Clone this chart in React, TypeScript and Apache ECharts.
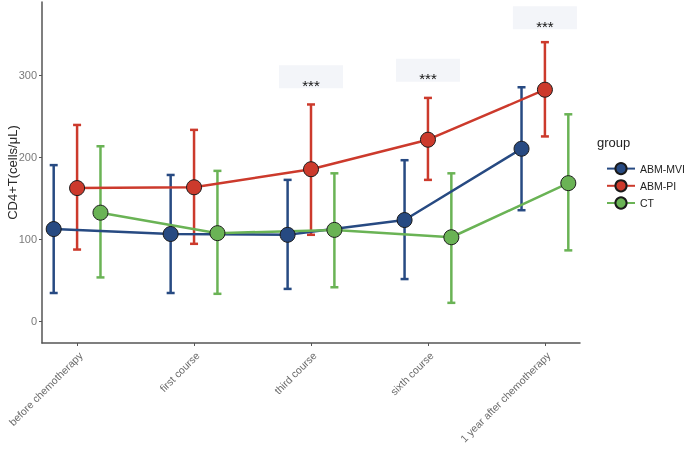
import React, { useEffect, useRef } from "react";
import * as echarts from "echarts";

const categories = [
  "before chemotherapy",
  "first course",
  "third course",
  "sixth course",
  "1 year after chemotherapy",
];
const groups = ["ABM-MVI", "ABM-PI", "CT"];
const colors = ["#274a82", "#cc3a2c", "#6ab355"];
const dodge = [-0.2, 0, 0.2];

// mean values
const mviMean = [112, 106, 105, 123, 210];
const piMean = [162, 163, 185, 221, 282];
const ctMean = [132, 107, 111, 102, 168];
// error bar lower / upper
const mviLow = [34, 34, 39, 51, 135];
const mviHigh = [190, 178, 172, 196, 285];
const piLow = [87, 94, 105, 172, 225];
const piHigh = [239, 233, 264, 272, 340];
const ctLow = [53, 33, 41, 22, 86];
const ctHigh = [213, 183, 180, 180, 252];

const yTicks = [0, 100, 200, 300];
const sigCats = [3, 4, 5];
const sigY = [291, 299, 363];
const sigText = "***";

const means = [mviMean, piMean, ctMean];
const lows = [mviLow, piLow, ctLow];
const highs = [mviHigh, piHigh, ctHigh];

const FONT = "'Liberation Sans', Arial, sans-serif";

export default function App() {
  const ref = useRef<HTMLDivElement>(null);
  useEffect(() => {
    if (!ref.current) return;
    const chart = echarts.init(ref.current, null, { renderer: "svg" });

    const errorSeries = groups.map((g, gi) => ({
      type: "custom",
      name: g + "-err",
      z: 1,
      encode: { x: 0, y: [1, 2] },
      data: categories.map((_, ci) => [ci + 1 + dodge[gi], lows[gi][ci], highs[gi][ci]]),
      renderItem: (params: any, api: any) => {
        const x = api.value(0);
        const lo = api.coord([x, api.value(1)]);
        const hi = api.coord([x, api.value(2)]);
        const w = 4;
        const style = { stroke: colors[gi], lineWidth: 2.5 };
        return {
          type: "group",
          children: [
            { type: "line", shape: { x1: lo[0], y1: lo[1], x2: hi[0], y2: hi[1] }, style },
            { type: "line", shape: { x1: lo[0] - w, y1: lo[1], x2: lo[0] + w, y2: lo[1] }, style },
            { type: "line", shape: { x1: hi[0] - w, y1: hi[1], x2: hi[0] + w, y2: hi[1] }, style },
          ],
        };
      },
    }));

    const lineSeries = groups.map((g, gi) => ({
      type: "line",
      name: g,
      z: 3,
      data: categories.map((_, ci) => [ci + 1 + dodge[gi], means[gi][ci]]),
      symbol: "circle",
      symbolSize: 15,
      lineStyle: { color: colors[gi], width: 2.5 },
      itemStyle: { color: colors[gi], borderColor: "#1a1a1a", borderWidth: 1 },
    }));

    const sigSeries = {
      type: "custom",
      name: "sig",
      z: 0,
      encode: { x: 0, y: 1 },
      data: sigCats.map((c, i) => [c, sigY[i]]),
      renderItem: (params: any, api: any) => {
        const p = api.coord([api.value(0), api.value(1)]);
        return {
          type: "group",
          children: [
            {
              type: "rect",
              shape: { x: p[0] - 32, y: p[1] - 17, width: 64, height: 23 },
              style: { fill: "#f3f5f9" },
            },
            {
              type: "text",
              x: p[0],
              y: p[1] + 3,
              style: {
                text: sigText,
                fill: "#111",
                font: `15px ${FONT}`,
                align: "center",
                verticalAlign: "middle",
              },
            },
          ],
        };
      },
    };

    chart.setOption({
      animation: false,
      textStyle: { fontFamily: FONT },
      grid: {
        left: 42,
        right: 105,
        top: 2,
        bottom: 109,
        containLabel: false,
        outerBoundsMode: "none",
      },
      xAxis: {
        type: "value",
        min: 0.7,
        max: 5.3,
        splitLine: { show: false },
        axisLine: { show: true, onZero: false, lineStyle: { color: "#555", width: 1.5 } },
        axisTick: { show: true, length: 3, customValues: [1, 2, 3, 4, 5], lineStyle: { color: "#555" } },
        axisLabel: {
          customValues: [1, 2, 3, 4, 5],
          formatter: (v: number) => categories[Math.round(v) - 1] ?? "",
          rotate: 45,
          margin: 7,
          verticalAlign: "top",
          fontSize: 10.5,
          color: "#6b6b6b",
          fontFamily: FONT,
        },
      },
      yAxis: {
        type: "value",
        min: -27,
        max: 389,
        name: "CD4+T(cells/μL)",
        nameLocation: "middle",
        nameGap: 23,
        nameMoveOverlap: false,
        nameTextStyle: { fontSize: 13, color: "#2a2a2a", fontFamily: FONT },
        splitLine: { show: false },
        axisLine: { show: true, onZero: false, lineStyle: { color: "#555", width: 1.5 } },
        axisTick: { show: true, length: 3, customValues: yTicks, lineStyle: { color: "#555" } },
        axisLabel: {
          customValues: yTicks,
          margin: 5,
          fontSize: 11,
          color: "#7a7a7a",
          fontFamily: FONT,
        },
      },
      legend: {
        data: groups,
        orient: "vertical",
        left: 601,
        top: 157,
        itemWidth: 28,
        itemHeight: 14,
        itemGap: 4,
        textStyle: { fontSize: 10.5, color: "#222", fontFamily: FONT },
      },
      graphic: [
        {
          type: "text",
          left: 597,
          top: 136,
          style: { text: "group", font: `13px ${FONT}`, fill: "#222" },
        },
      ],
      series: [sigSeries, ...errorSeries, ...lineSeries],
    });
    return () => chart.dispose();
  }, []);
  return (
    <div
      ref={ref}
      style={{ position: "fixed", left: 0, top: 0, width: 685, height: 452 }}
    />
  );
}
